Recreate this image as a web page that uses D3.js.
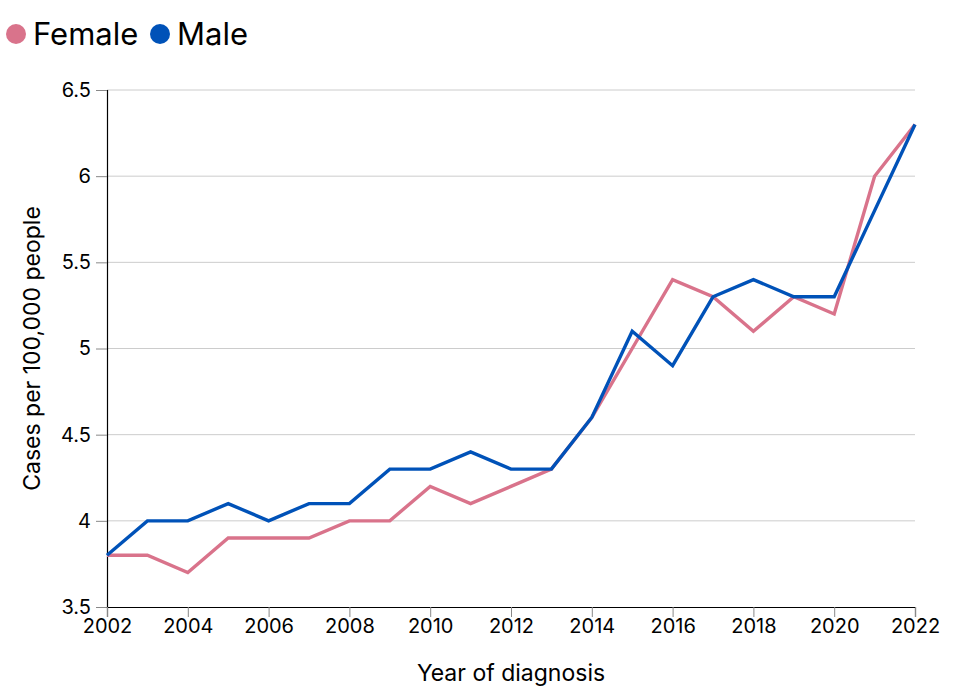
<!DOCTYPE html>
<meta charset="utf-8">
<style>
body { margin: 0; font-family: Inter, "Noto Sans", sans-serif; background: #fff; }
.axis text { font: 20px Inter, sans-serif; fill: #000; }
.axis .domain { stroke: #000; stroke-width: 1.2; }
.axis .tick line { stroke: #888; }
.grid line { stroke: #ccc; }
.line { fill: none; stroke-width: 3.4; stroke-linejoin: miter; }
</style>
<svg width="964" height="694"></svg>
<script src="https://cdn.jsdelivr.net/npm/d3@7"></script>
<script>
var years = [2002,2003,2004,2005,2006,2007,2008,2009,2010,2011,2012,2013,2014,2015,2016,2017,2018,2019,2020,2021,2022];
var female = [3.8,3.8,3.7,3.9,3.9,3.9,4.0,4.0,4.2,4.1,4.2,4.3,4.6,5.0,5.4,5.3,5.1,5.3,5.2,6.0,6.3];
var male = [3.8,4.0,4.0,4.1,4.0,4.1,4.1,4.3,4.3,4.4,4.3,4.3,4.6,5.1,4.9,5.3,5.4,5.3,5.3,5.8,6.3];
var yTicks = [3.5,4,4.5,5,5.5,6,6.5];
var xTicks = [2002,2004,2006,2008,2010,2012,2014,2016,2018,2020,2022];
var seriesNames = ["Female", "Male"];
var colors = ["#d9738b", "#0052b8"];

var svg = d3.select("svg"),
    margin = {top: 90, right: 49, bottom: 87, left: 107},
    width = +svg.attr("width") - margin.left - margin.right,
    height = +svg.attr("height") - margin.top - margin.bottom;

var x = d3.scaleLinear().domain([2002, 2022]).range([0, width]),
    y = d3.scaleLinear().domain([3.5, 6.5]).range([height, 0]);

var g = svg.append("g")
    .attr("transform", "translate(" + margin.left + "," + margin.top + ")");

g.append("g")
    .attr("class", "grid")
  .selectAll("line")
  .data(yTicks.slice(1))
  .enter().append("line")
    .attr("x1", 0)
    .attr("x2", width)
    .attr("y1", function(d) { return y(d); })
    .attr("y2", function(d) { return y(d); });

g.append("g")
    .attr("class", "axis")
    .call(d3.axisLeft(y).tickValues(yTicks).tickFormat(d3.format("")).tickSize(11).tickPadding(5));

g.append("g")
    .attr("class", "axis")
    .attr("transform", "translate(0," + height + ")")
    .call(d3.axisBottom(x).tickValues(xTicks).tickFormat(d3.format("d")).tickSize(10).tickPadding(2));

var line = d3.line()
    .x(function(d, i) { return x(years[i]); })
    .y(function(d) { return y(d); });

[female, male].forEach(function(s, i) {
  g.append("path")
      .datum(s)
      .attr("class", "line")
      .attr("stroke", colors[i])
      .attr("d", line);
});

svg.append("text")
    .attr("transform", "translate(40," + (margin.top + height / 2) + ") rotate(-90)")
    .attr("text-anchor", "middle")
    .style("font-size", "23px")
    .text("Cases per 100,000 people");

svg.append("text")
    .attr("x", margin.left + width / 2)
    .attr("y", 681)
    .attr("text-anchor", "middle")
    .style("font-size", "23px")
    .text("Year of diagnosis");

// legend
var lx = [6, 150];
seriesNames.forEach(function(name, i) {
  svg.append("circle")
      .attr("cx", lx[i] + 10)
      .attr("cy", 34)
      .attr("r", 10)
      .attr("fill", colors[i]);
  svg.append("text")
      .attr("x", lx[i] + 27)
      .attr("y", 45)
      .style("font-size", "31px")
      .text(name);
});
</script>
